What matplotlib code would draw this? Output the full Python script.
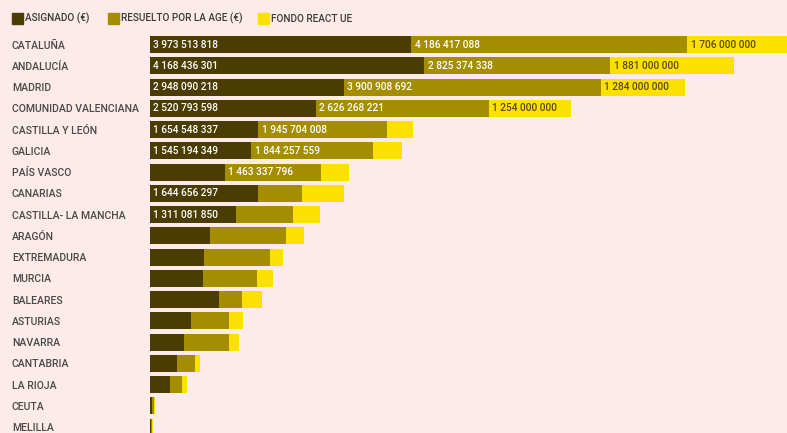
import matplotlib
matplotlib.use("Agg")
import matplotlib.pyplot as plt
from matplotlib.patches import Rectangle

regions = ["CATALUÑA", "ANDALUCÍA", "MADRID", "COMUNIDAD VALENCIANA", "CASTILLA Y LEÓN",
           "GALICIA", "PAÍS VASCO", "CANARIAS", "CASTILLA- LA MANCHA", "ARAGÓN",
           "EXTREMADURA", "MURCIA", "BALEARES", "ASTURIAS", "NAVARRA", "CANTABRIA",
           "LA RIOJA", "CEUTA", "MELILLA"]
asignado = [3973513818, 4168436301, 2948090218, 2520793598, 1654548337, 1545194349,
            1140000000, 1644656297, 1311081850, 925000000, 825000000, 805000000,
            1050000000, 635000000, 530000000, 420000000, 315000000, 35000000, 25000000]
resuelto = [4186417088, 2825374338, 3900908692, 2626268221, 1945704008, 1844257559,
            1463337796, 670000000, 870000000, 1140000000, 1000000000, 820000000,
            350000000, 570000000, 675000000, 265000000, 185000000, 30000000, 20000000]
fondo = [1706000000, 1881000000, 1284000000, 1254000000, 400000000, 440000000,
         430000000, 640000000, 410000000, 275000000, 195000000, 245000000,
         310000000, 210000000, 150000000, 80000000, 75000000, 20000000, 15000000]
series_names = ["ASIGNADO (€)", "RESUELTO POR LA AGE (€)", "FONDO REACT UE"]

BG = "#fcebe8"
C_ASIG = "#4b3d02"
C_RES = "#a48e00"
C_FON = "#fbe000"
LABEL_MIN = 1.2e9

plt.rcParams['font.family'] = ['Roboto', 'DejaVu Sans']

W, H = 787, 433
fig = plt.figure(figsize=(W / 100, H / 100), dpi=100, facecolor=BG)

ax_left, ax_top, ax_bottom = 149.5, 30, 433
ax = fig.add_axes([ax_left / W, 1 - ax_bottom / H, (W - ax_left) / W, (ax_bottom - ax_top) / H])
ax.set_facecolor(BG)

px_per_val = 15.18e6
ax.set_xlim(0, (W - ax_left) * px_per_val)
row0, pitch = 44.5, 21.26
ax.set_ylim((ax_bottom - row0) / pitch, (ax_top - row0) / pitch)

y = list(range(len(regions)))
h = 0.8
ax.barh(y, asignado, height=h, color=C_ASIG, linewidth=0)
ax.barh(y, resuelto, left=asignado, height=h, color=C_RES, linewidth=0)
lefts2 = [a + r for a, r in zip(asignado, resuelto)]
ax.barh(y, fondo, left=lefts2, height=h, color=C_FON, linewidth=0)

def fmt(v):
    return f"{v:,}".replace(",", " ")

off = 3.5 * px_per_val
for i in y:
    for left, val, col in [(0, asignado[i], "white"), (asignado[i], resuelto[i], "white"),
                           (lefts2[i], fondo[i], "#5a4a00")]:
        if val >= LABEL_MIN:
            ax.text(left + off, i, fmt(val), va="center", ha="left", color=col,
                    fontsize=7.3, fontweight="medium", clip_on=False)

ax.set_yticks(y)
ax.set_yticklabels(regions, ha="left", color="#4a4a4a", fontsize=7.6, fontweight="medium")
ax.tick_params(axis="y", length=0, pad=(ax_left - 12) * 0.72)
ax.set_xticks([])
for s in ax.spines.values():
    s.set_visible(False)

# legend
leg_x = [12, 108, 258]
for xx, name, col in zip(leg_x, series_names, [C_ASIG, C_RES, C_FON]):
    fig.patches.append(Rectangle((xx / W, 1 - 24 / H), 11 / W, 11 / H,
                                 transform=fig.transFigure, color=col))
    fig.text((xx + 13) / W, 1 - 18.5 / H, name, va="center", ha="left",
             fontsize=7.2, fontweight="medium", color="#3a3a3a")

fig.savefig("out.png", dpi=100, facecolor=BG)
